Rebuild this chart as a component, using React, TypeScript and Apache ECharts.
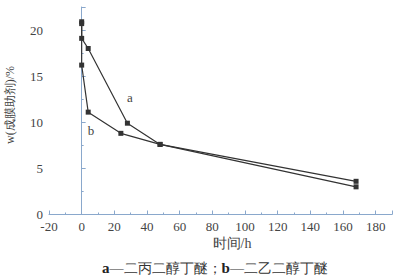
import React, { useEffect, useRef } from "react";
import * as echarts from "echarts";

const seriesA: [number, number][] = [
  [0, 20.9],
  [0, 19.1],
  [4, 18.0],
  [28, 9.9],
  [48, 7.6],
  [168, 3.6],
];
const seriesB: [number, number][] = [
  [0, 20.7],
  [0, 16.2],
  [4, 11.1],
  [24, 8.8],
  [48, 7.6],
  [168, 3.0],
];
const xName = "时间/h";
const yName = "w(成膜助剂)/%";
const captionA = "a";
const captionAText = "—二丙二醇丁醚；";
const captionB = "b";
const captionBText = "—二乙二醇丁醚";

const FONT = "Liberation Serif";
const AXIS_COLOR = "#8aa8cc";
const TEXT_COLOR = "#444";
const LINE_COLOR = "#333";

export default function App() {
  const ref = useRef<HTMLDivElement>(null);
  useEffect(() => {
    if (!ref.current) return;
    const chart = echarts.init(ref.current, undefined, { renderer: "svg" });
    const axisCommon = {
      axisLine: { show: true, lineStyle: { color: AXIS_COLOR, width: 1 } },
      axisTick: { show: true, inside: true, length: 4, lineStyle: { color: AXIS_COLOR } },
      minorTick: { show: true, splitNumber: 2, length: 2, lineStyle: { color: AXIS_COLOR } },
      splitLine: { show: false },
      axisLabel: {
        color: TEXT_COLOR,
        fontFamily: FONT,
        fontSize: 13,
        showMaxLabel: false,
      },
    };
    const mkSeries = (data: [number, number][]) => ({
      type: "line",
      data,
      symbol: "rect",
      symbolSize: 5,
      lineStyle: { color: LINE_COLOR, width: 1.2 },
      itemStyle: { color: LINE_COLOR },
      silent: true,
    });
    chart.setOption({
      animation: false,
      grid: { left: 49, right: 6, top: 7, bottom: 62.5 },
      xAxis: {
        type: "value",
        min: -20,
        max: 190,
        interval: 20,
        ...axisCommon,
        axisLabel: { ...axisCommon.axisLabel, margin: 5 },
      },
      yAxis: {
        type: "value",
        min: 0,
        max: 22.5,
        interval: 5,
        ...axisCommon,
        axisLabel: { ...axisCommon.axisLabel, margin: 6 },
      },
      series: [mkSeries(seriesA), mkSeries(seriesB)],
      graphic: [
        {
          type: "text",
          x: 130,
          y: 97,
          style: { text: "a", fill: TEXT_COLOR, fontFamily: FONT, fontSize: 13, align: "center", verticalAlign: "middle" },
        },
        {
          type: "text",
          x: 91,
          y: 130,
          style: { text: "b", fill: TEXT_COLOR, fontFamily: FONT, fontSize: 13, align: "center", verticalAlign: "middle" },
        },
        {
          type: "text",
          x: 10,
          y: 105,
          rotation: Math.PI / 2,
          style: { text: yName, fill: TEXT_COLOR, fontFamily: FONT, fontSize: 12, align: "center", verticalAlign: "middle" },
        },
        {
          type: "text",
          x: 232,
          y: 243,
          style: { text: xName, fill: TEXT_COLOR, fontFamily: FONT, fontSize: 14, align: "center", verticalAlign: "middle" },
        },
        {
          type: "text",
          x: 215,
          y: 268,
          style: {
            text: `{b|${captionA}}{n|${captionAText}}{b|${captionB}}{n|${captionBText}}`,
            align: "center",
            verticalAlign: "middle",
            rich: {
              b: { fill: "#222", fontFamily: FONT, fontSize: 15, fontWeight: "bold" },
              n: { fill: "#333", fontFamily: FONT, fontSize: 14 },
            },
          },
        },
      ],
    });
    return () => chart.dispose();
  }, []);
  return (
    <div
      ref={ref}
      style={{ position: "absolute", left: 0, top: 0, width: 398, height: 277, background: "#fff" }}
    />
  );
}
